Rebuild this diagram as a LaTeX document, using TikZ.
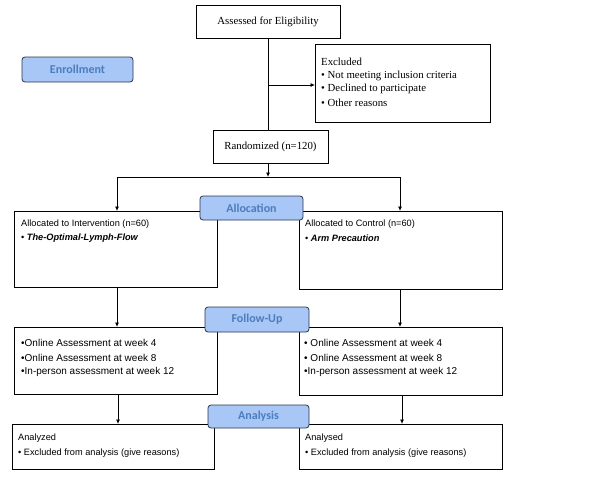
\documentclass[tikz,border=0pt]{standalone}
\usepackage{fontspec}
\setmainfont{Liberation Serif}
\setsansfont{Liberation Sans}
\newfontfamily\phasefont{Carlito}
\usetikzlibrary{arrows.meta}
\definecolor{phasefill}{RGB}{168,198,246}
\definecolor{phasetext}{RGB}{74,126,190}
\definecolor{phaseline}{RGB}{45,55,75}
\tikzset{
  box/.style={draw=black, line width=0.8pt, fill=white},
  phase/.style={draw=phaseline, line width=0.8pt, fill=phasefill, rounded corners=3pt},
  phaselabel/.style={font=\phasefont\bfseries\fontsize{12}{14}\selectfont, text=phasetext},
  sertext/.style={font=\fontsize{10.8}{13}\selectfont, inner sep=0pt, anchor=west},
  santext/.style={font=\sffamily\fontsize{9.2}{11}\selectfont, inner sep=0pt, anchor=west},
  futext/.style={font=\sffamily\fontsize{10}{12}\selectfont, inner sep=0pt, anchor=west},
  conn/.style={line width=0.8pt},
  arr/.style={line width=0.8pt, -{Latex[length=4.5pt,width=4pt]}}
}
\begin{document}
\begin{tikzpicture}[x=1pt,y=-1pt]
\useasboundingbox (0,0) rectangle (590,479);
\fill[white] (0,0) rectangle (590,479);

% top part
\draw[box] (196,5) rectangle (340,38);
\node[font=\fontsize{10.8}{13}\selectfont] (assess) at (268,21.5) {Assessed for Eligibility};
\coordinate (assessS) at (268,38);
\draw[box] (315,44) rectangle (490,122);
\coordinate (exclW) at (315,85);
\node[sertext] (ex1) at (321,62) {Excluded};
\node[sertext] (ex2) at (321,75.5) {\textbullet{} Not meeting inclusion criteria};
\node[sertext] (ex3) at (321,89) {\textbullet{} Declined to participate};
\node[sertext] (ex4) at (321,103) {\textbullet{} Other reasons};
\draw[phase] (22,57) rectangle (133,82);
\node[phaselabel] (enroll) at (77.5,69.5) {Enrollment};
\draw[box] (213,130) rectangle (328,163);
\node[font=\fontsize{10.8}{13}\selectfont] (rand) at (270.5,146.5) {Randomized (n=120)};
\coordinate (randN) at (268,130);
\coordinate (randS) at (268,163);
\coordinate (branch) at (268,85);
\coordinate (junc) at (268,177);

\draw[conn] (assessS) -- (randN);
\draw[arr] (branch) -- (exclW);
\draw[arr] (randS) -- (junc);

% allocation
\draw[box] (14,211) rectangle (217,287);
\draw[box] (299,211) rectangle (502,289);
\coordinate (allocLN) at (117,211);
\coordinate (allocRN) at (400,211);
\coordinate (allocLS) at (117,287);
\coordinate (allocRS) at (400,289);
\draw[conn] (117,177) -- (400,177);
\draw[arr] (117,177) -- (allocLN);
\draw[arr] (400,177) -- (allocRN);
\node[santext] (al1) at (21,224) {Allocated to Intervention (n=60)};
\node[santext] (al2) at (21,238.5) {\textbullet{} \textbf{\textit{The-Optimal-Lymph-Flow}}};
\node[santext] (ar1) at (305,224) {Allocated to Control (n=60)};
\node[santext] (ar2) at (305,238.5) {\textbullet{} \textbf{\textit{Arm Precaution}}};
\draw[phase] (200,196) rectangle (303,220);
\node[phaselabel] (alloc) at (251.5,208) {Allocation};

% follow-up
\draw[box] (14,327) rectangle (217,394);
\draw[box] (299,327) rectangle (502,395);
\coordinate (fuLN) at (117,327);
\coordinate (fuRN) at (400,327);
\draw[arr] (allocLS) -- (fuLN);
\draw[arr] (allocRS) -- (fuRN);
\node[futext] (fl1) at (21,343) {\textbullet Online Assessment at week 4};
\node[futext] (fl2) at (21,357.5) {\textbullet Online Assessment at week 8};
\node[futext] (fl3) at (21,372) {\textbullet In-person assessment at week 12};
\node[futext] (fr1) at (304,343) {\textbullet{} Online Assessment at week 4};
\node[futext] (fr2) at (304,357.5) {\textbullet{} Online Assessment at week 8};
\node[futext] (fr3) at (304,372) {\textbullet In-person assessment at week 12};
\draw[phase] (205,307) rectangle (309,332);
\node[phaselabel] (fu) at (257,319.5) {Follow-Up};

% analysis
\draw[box] (12,424) rectangle (214,469);
\draw[box] (299,424) rectangle (502,469);
\coordinate (fuLS) at (118,394);
\coordinate (fuRS) at (402,395);
\coordinate (anLN) at (118,424);
\coordinate (anRN) at (402,424);
\draw[arr] (fuLS) -- (anLN);
\draw[arr] (fuRS) -- (anRN);
\node[santext] (nl1) at (18,438) {Analyzed};
\node[santext] (nl2) at (18,453) {\textbullet{} Excluded from analysis (give reasons)};
\node[santext] (nr1) at (305,438) {Analysed};
\node[santext] (nr2) at (305,453) {\textbullet{} Excluded from analysis (give reasons)};
\draw[phase] (208,405) rectangle (309,428);
\node[phaselabel] (anal) at (258.5,416.5) {Analysis};
\end{tikzpicture}
\end{document}
